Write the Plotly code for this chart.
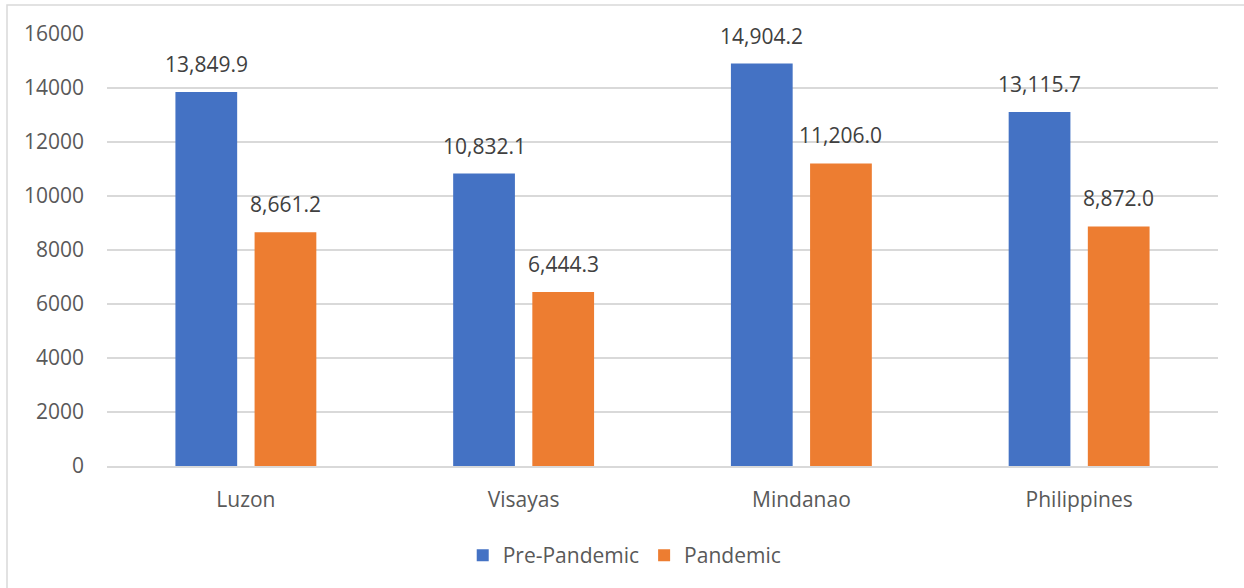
import plotly.graph_objects as go

categories = ["Luzon", "Visayas", "Mindanao", "Philippines"]
pre_pandemic = [13849.9, 10832.1, 14904.2, 13115.7]
pandemic = [8661.2, 6444.3, 11206.0, 8872.0]
series_names = ["Pre-Pandemic", "Pandemic"]
y_ticks = [0, 2000, 4000, 6000, 8000, 10000, 12000, 14000, 16000]

BLUE = "#4472C4"
ORANGE = "#ED7D31"
FONT = "Open Sans"

W, H = 1244, 588
ML, MR, MT, MB = 107, 26, 34, 122
plot_w = W - ML - MR
plot_h = H - MT - MB
cat_w = plot_w / len(categories)
bargap = 0.43
slot = cat_w * (1 - bargap) / 2

fig = go.Figure()
for name, vals, col in [(series_names[0], pre_pandemic, BLUE), (series_names[1], pandemic, ORANGE)]:
    fig.add_trace(go.Bar(x=categories, y=vals, name=name, marker=dict(color=col, line=dict(width=0))))

annotations = []
for sign, vals in [(-1, pre_pandemic), (1, pandemic)]:
    for c, v in zip(categories, vals):
        annotations.append(dict(x=c, y=v, xref="x", yref="y", text=f"{v:,.1f}", showarrow=False,
                                xshift=sign * slot / 2, yshift=12, yanchor="bottom",
                                font=dict(family=FONT, size=21, color="#404040")))

# outer chart frame
fx0 = (7 - ML) / plot_w
fy1 = (H - MB - 5) / plot_h
fx1 = (W + 5 - ML) / plot_w
fy0 = (H - MB - (H + 5)) / plot_h
shapes = [dict(type="rect", xref="paper", yref="paper", x0=fx0, x1=fx1, y0=fy0, y1=fy1,
               line=dict(color="#d9d9d9", width=1.5), layer="below")]

fig.update_layout(
    width=W, height=H,
    margin=dict(l=ML, r=MR, t=MT, b=MB, autoexpand=False),
    paper_bgcolor="white", plot_bgcolor="white",
    barmode="group", bargap=bargap, bargroupgap=0.22,
    font=dict(family=FONT, size=21, color="#595959"),
    showlegend=True,
    legend=dict(orientation="h", x=0.466, xanchor="center", y=-0.16, yanchor="top",
                font=dict(family=FONT, size=21, color="#595959"), itemsizing="constant",
                itemwidth=30, tracegroupgap=0),
    annotations=annotations,
    shapes=shapes,
    xaxis=dict(showgrid=False, showline=True, linecolor="#d9d9d9", linewidth=1.5,
               ticks="", ticklabelstandoff=14, tickfont=dict(family=FONT, size=21, color="#595959")),
    yaxis=dict(range=[0, 16000], tickvals=y_ticks, ticktext=[str(t) for t in y_ticks],
               showgrid=True, gridcolor="#d9d9d9", gridwidth=1.5, zeroline=False,
               ticks="", ticklabelstandoff=22, tickfont=dict(family=FONT, size=21, color="#595959")),
)

fig.write_html("out.html", config={"displayModeBar": False},
               post_script="document.body.style.margin='0';")
